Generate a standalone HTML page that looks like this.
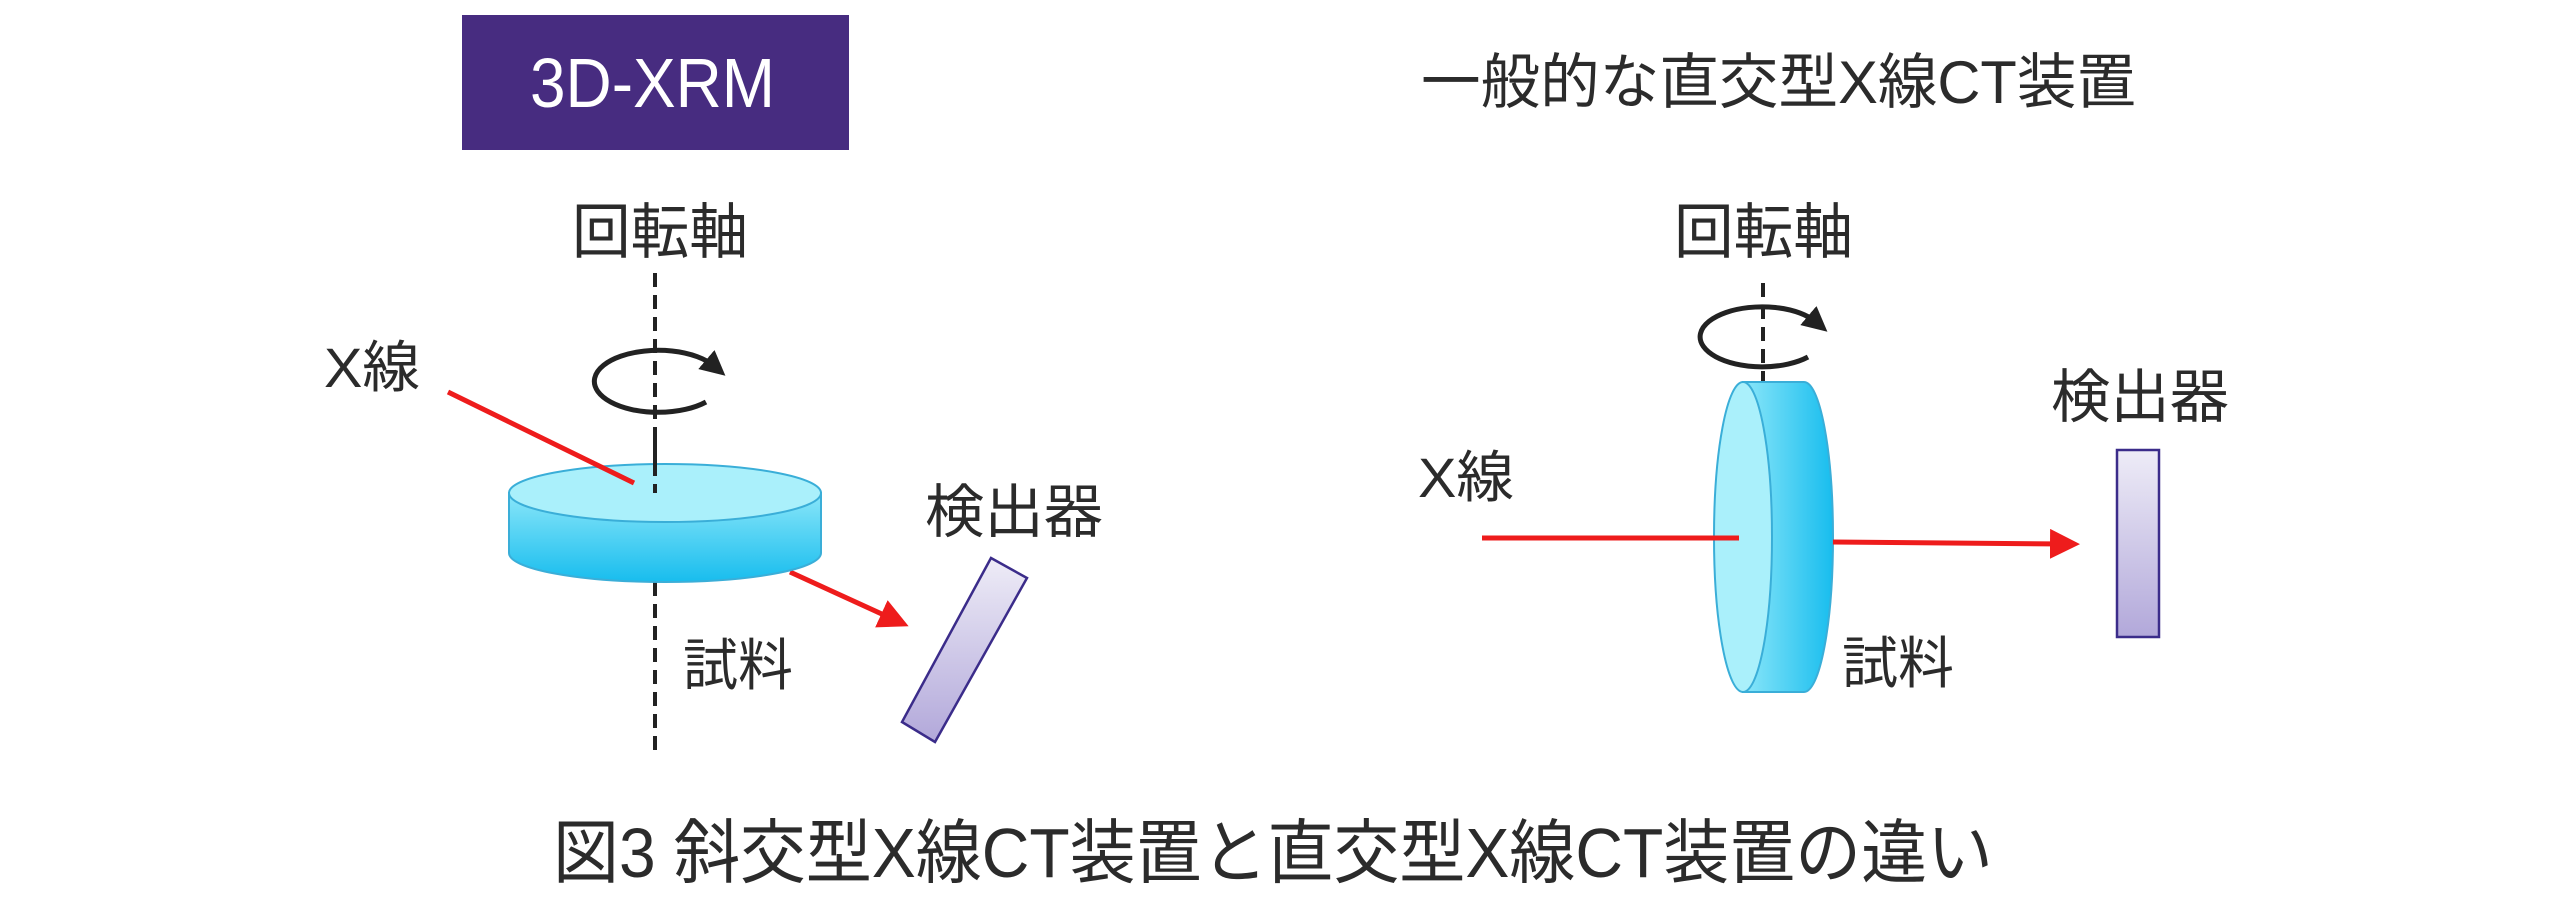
<!DOCTYPE html>
<html><head><meta charset="utf-8"><style>
html,body{margin:0;padding:0;background:#fff;}
svg{display:block}
text{font-family:"Liberation Sans","Noto Sans CJK JP",sans-serif;fill:#2b2b2b;}
</style></head><body>
<svg width="2560" height="917" viewBox="0 0 2560 917" xmlns="http://www.w3.org/2000/svg">
<defs>
<linearGradient id="side" x1="0" y1="0" x2="0" y2="1"><stop offset="0" stop-color="#8ae6f9"/><stop offset="1" stop-color="#18bdee"/></linearGradient>
<linearGradient id="sideH" x1="0" y1="0" x2="1" y2="0"><stop offset="0" stop-color="#8ae6f9"/><stop offset="1" stop-color="#18bdee"/></linearGradient>
<linearGradient id="det" x1="0" y1="0" x2="0" y2="1"><stop offset="0" stop-color="#eeecf7"/><stop offset="1" stop-color="#b2a8da"/></linearGradient>
<marker id="ar" markerWidth="6" markerHeight="6" refX="3" refY="3" orient="auto" markerUnits="strokeWidth"><path d="M0,0 L6,3 L0,6 Z" fill="#ee1c1c"/></marker>
<marker id="ab" markerWidth="5" markerHeight="5" refX="2" refY="2.5" orient="auto" markerUnits="strokeWidth"><path d="M0,0 L5,2.5 L0,5 Z" fill="#222"/></marker>
</defs>

<!-- Left title box -->
<rect x="462" y="15" width="387" height="135" fill="#472c80"/>
<text x="530" y="107" font-size="70" style="fill:#fff" textLength="245" lengthAdjust="spacingAndGlyphs">3D-XRM</text>

<!-- Right title -->
<text x="1421" y="103" font-size="60" textLength="715" lengthAdjust="spacingAndGlyphs">一般的な直交型X線CT装置</text>

<!-- Left labels -->
<text x="572" y="253" font-size="60" textLength="176" lengthAdjust="spacingAndGlyphs">回転軸</text>
<text x="324" y="387" font-size="56" textLength="96" lengthAdjust="spacingAndGlyphs">X線</text>
<text x="683" y="685" font-size="56" textLength="110" lengthAdjust="spacingAndGlyphs">試料</text>
<text x="925" y="532" font-size="58" textLength="178" lengthAdjust="spacingAndGlyphs">検出器</text>

<!-- Left diagram -->
<line x1="655" y1="273" x2="655" y2="493" stroke="#222" stroke-width="4" stroke-dasharray="14 8"/>
<line x1="655" y1="582" x2="655" y2="756" stroke="#222" stroke-width="4" stroke-dasharray="14 8"/>
<path d="M706,402 A64,31 0 1 1 714,366" fill="none" stroke="#222" stroke-width="5" marker-end="url(#ab)"/>
<line x1="790" y1="572" x2="895" y2="620" stroke="#ee1c1c" stroke-width="5" marker-end="url(#ar)"/>
<path d="M509,493 L509,553 A156,29 0 0 0 821,553 L821,493 Z" fill="url(#side)" stroke="#3aaed8" stroke-width="2"/>
<ellipse cx="665" cy="493" rx="156" ry="29" fill="#aaf0fb" stroke="#3aaed8" stroke-width="2"/>
<line x1="655" y1="440" x2="655" y2="493" stroke="#222" stroke-width="4" stroke-dasharray="14 8"/>
<line x1="448" y1="392" x2="634" y2="483" stroke="#ee1c1c" stroke-width="5"/>
<polygon points="991,558 1027,578 935,742 902,722" fill="url(#det)" stroke="#3b2c8a" stroke-width="2.5"/>

<!-- Right labels -->
<text x="1674" y="253" font-size="60" textLength="179" lengthAdjust="spacingAndGlyphs">回転軸</text>
<text x="1418" y="497" font-size="56" textLength="96" lengthAdjust="spacingAndGlyphs">X線</text>
<text x="1842" y="683" font-size="56" textLength="112" lengthAdjust="spacingAndGlyphs">試料</text>
<text x="2051" y="417" font-size="58" textLength="178" lengthAdjust="spacingAndGlyphs">検出器</text>

<!-- Right diagram -->
<line x1="1763" y1="283" x2="1763" y2="387" stroke="#222" stroke-width="4" stroke-dasharray="14 8"/>
<path d="M1808,357 A62,30 0 1 1 1816,322" fill="none" stroke="#222" stroke-width="5" marker-end="url(#ab)"/>
<path d="M1743,382 L1804,382 A29,155 0 0 1 1804,692 L1743,692 Z" fill="url(#sideH)" stroke="#3aaed8" stroke-width="2"/>
<ellipse cx="1743" cy="537" rx="29" ry="155" fill="#aaf0fb" stroke="#3aaed8" stroke-width="2"/>
<line x1="1482" y1="538" x2="1739" y2="538" stroke="#ee1c1c" stroke-width="5"/>
<line x1="1833" y1="542" x2="2065" y2="544" stroke="#ee1c1c" stroke-width="5" marker-end="url(#ar)"/>
<rect x="2117" y="450" width="42" height="187" fill="url(#det)" stroke="#3b2c8a" stroke-width="2.5"/>

<!-- Caption -->
<text x="553" y="877" font-size="70" textLength="1440" lengthAdjust="spacingAndGlyphs">図3  斜交型X線CT装置と直交型X線CT装置の違い</text>
</svg>
</body></html>
